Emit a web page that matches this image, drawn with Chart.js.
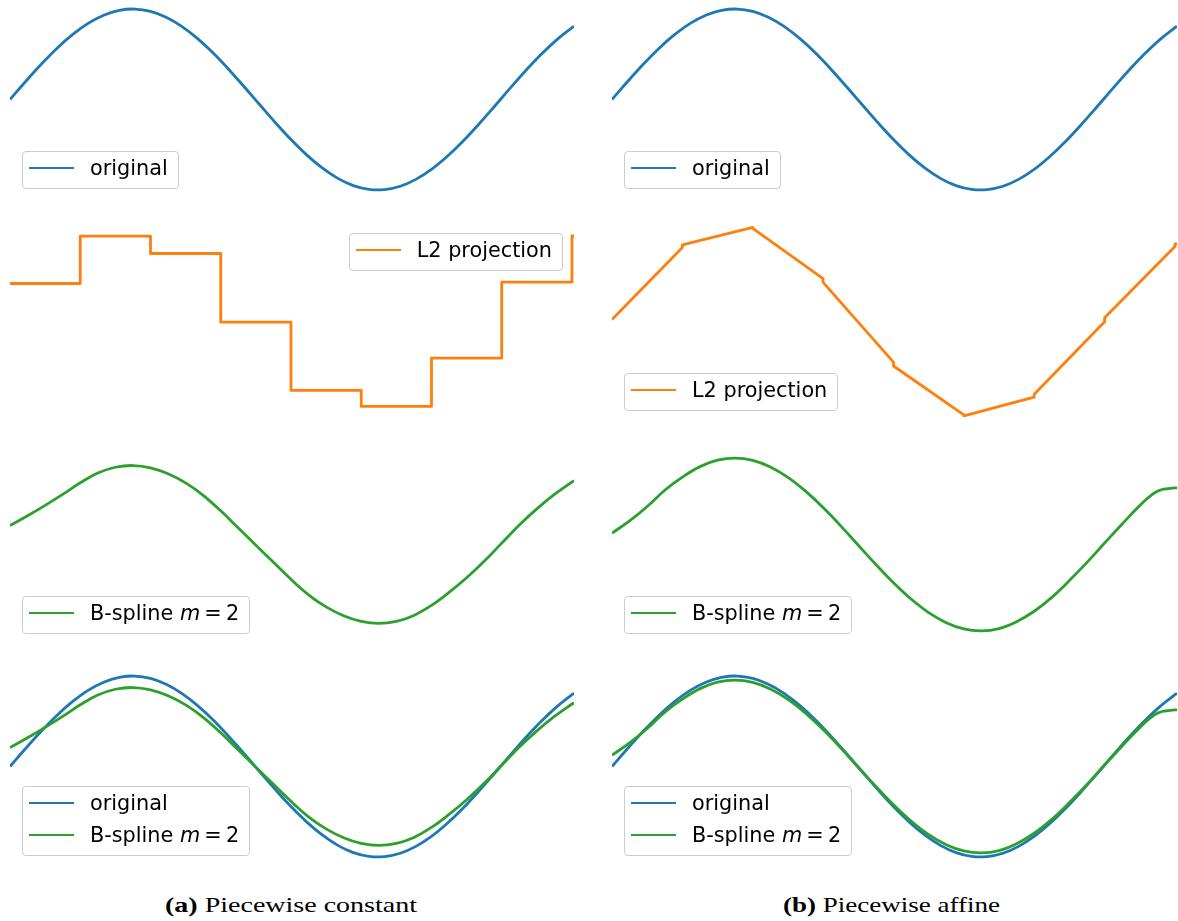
<!DOCTYPE html>
<html>
<head>
<meta charset="utf-8">
<script src="https://cdn.jsdelivr.net/npm/chart.js@4.4.0/dist/chart.umd.min.js"></script>
<style>
  html, body { margin: 0; padding: 0; background: #fff; }
  #figure { position: relative; width: 1178px; height: 921px; overflow: hidden; }
  .panel { position: absolute; height: 199px; }
  .panel canvas { position: absolute; left: 0; top: 0; }
  .legend {
    position: absolute; box-sizing: border-box; z-index: 2;
    border: 1px solid #cccccc; border-radius: 4px;
    background: rgba(255, 255, 255, 0.8);
    padding: 0 10px 4px 6px;
    font-family: "DejaVu Sans", sans-serif; font-size: 20.8px; color: #000;
  }
  .legend .row { display: flex; align-items: center; height: 32px; white-space: nowrap; }
  .legend .swatch { width: 45px; height: 2.8px; margin-right: 16px; }
  .caption {
    position: absolute; top: 893px; white-space: nowrap;
    font-family: "Liberation Serif", serif; font-size: 21px; color: #000;
    transform-origin: left center;
  }
</style>
</head>
<body>
<div id="figure"></div>
<script>
// --- data ---
// x positions (domain 0 .. 2.3*pi)
const xOriginal = [0, 0.2, 0.4, 0.6, 0.8, 1.0, 1.2, 1.4, 1.6, 1.8, 2.0, 2.2, 2.4, 2.6, 2.8, 3.0,
  3.2, 3.4, 3.6, 3.8, 4.0, 4.2, 4.4, 4.6, 4.8, 5.0, 5.2, 5.4, 5.6, 5.8, 6.0, 6.2, 6.4, 6.6,
  6.8, 7.0, 7.2, 7.226];
const original = [0, 0.199, 0.389, 0.565, 0.717, 0.841, 0.932, 0.985, 1.0, 0.974, 0.909, 0.808,
  0.675, 0.516, 0.335, 0.141, -0.058, -0.256, -0.443, -0.612, -0.757, -0.872, -0.952, -0.994,
  -0.996, -0.959, -0.883, -0.773, -0.631, -0.465, -0.279, -0.083, 0.117, 0.312, 0.494, 0.657,
  0.794, 0.809];

// cell edges of the projections
const cellEdges = [0, 0.9, 1.8, 2.7, 3.6, 4.5, 5.4, 6.3, 7.2, 7.226];
// piecewise constant L2 projection, one value per cell
const constValues = [0.42, 0.943, 0.752, -0.008, -0.762, -0.939, -0.406, 0.435, 0.947];
// piecewise affine L2 projection, value at left and right end of each cell
const affineStart = [0.023, 0.847, 1.029, 0.433, -0.492, -1.043, -0.805, 0.041, 0.857];
const affineEnd = [0.818, 1.040, 0.475, -0.449, -1.032, -0.837, -0.003, 0.829, 0.862];

// B-spline m = 2 curves
const xSpline = [0, 0.225, 0.45, 0.675, 0.9, 1.125, 1.35, 1.575, 1.8, 2.025, 2.25, 2.475, 2.7,
  2.925, 3.15, 3.375, 3.6, 3.825, 4.05, 4.275, 4.5, 4.725, 4.95, 5.175, 5.4, 5.625, 5.85, 6.075,
  6.3, 6.525, 6.75, 6.975, 7.2, 7.226];
const splineConst = [0.210, 0.318, 0.433, 0.554, 0.682, 0.790, 0.854, 0.873, 0.848, 0.782, 0.681,
  0.544, 0.372, 0.182, -0.007, -0.196, -0.385, -0.556, -0.690, -0.788, -0.851, -0.873, -0.850,
  -0.784, -0.673, -0.530, -0.368, -0.186, 0.015, 0.215, 0.394, 0.553, 0.691, 0.705];
const splineAffine = [0.125, 0.26, 0.42, 0.60, 0.745, 0.861, 0.932, 0.955, 0.930, 0.858, 0.743,
  0.590, 0.408, 0.206, -0.008, -0.221, -0.423, -0.603, -0.753, -0.864, -0.934, -0.955, -0.929,
  -0.853, -0.738, -0.585, -0.399, -0.198, 0.016, 0.227, 0.430, 0.59, 0.625, 0.626];

const BLUE = '#1f77b4', ORANGE = '#ff7f0e', GREEN = '#2ca02c';

// --- helpers ---
const zip = (xs, ys) => xs.map((x, i) => ({ x: x, y: ys[i] }));

function cellPoints(starts, ends) {
  const pts = [];
  for (let i = 0; i < starts.length; i++) {
    pts.push({ x: cellEdges[i], y: starts[i] });
    pts.push({ x: cellEdges[i + 1], y: ends[i] });
  }
  return pts;
}

const smooth = (label, xs, ys, color, order) => ({
  label, data: zip(xs, ys), borderColor: color, tension: 0.4, order
});
const sharp = (label, pts, color) => ({ label, data: pts, borderColor: color, tension: 0 });

const figure = document.getElementById('figure');
const columns = [{ left: 10, width: 564 }, { left: 612, width: 565 }];
const rowTops = [0, 222, 445, 667];

function legendLabel(text) {
  return text.replace('m = 2', '<i>m</i>&#8201;=&#8201;2');
}

function makePanel(col, row, datasets, loc) {
  const box = document.createElement('div');
  box.className = 'panel';
  box.style.left = columns[col].left + 'px';
  box.style.top = rowTops[row] + 'px';
  box.style.width = columns[col].width + 'px';
  figure.appendChild(box);

  const canvas = document.createElement('canvas');
  canvas.width = columns[col].width;
  canvas.height = 199;
  box.appendChild(canvas);

  new Chart(canvas.getContext('2d'), {
    type: 'line',
    data: { datasets },
    options: {
      responsive: false,
      animation: false,
      layout: { padding: 0 },
      plugins: { legend: { display: false }, tooltip: { enabled: false } },
      scales: {
        x: { type: 'linear', min: 0, max: 7.226, display: false },
        y: { min: -1.1, max: 1.1, display: false }
      },
      elements: {
        point: { radius: 0 },
        line: { borderWidth: 2.8, borderJoinStyle: 'round', borderCapStyle: 'butt' }
      }
    }
  });

  // legend, entries in dataset order
  const leg = document.createElement('div');
  leg.className = 'legend';
  const entries = datasets.slice().sort((a, b) => (b.order || 0) - (a.order || 0));
  entries.forEach(ds => {
    const r = document.createElement('div');
    r.className = 'row';
    r.innerHTML = `<span class="swatch" style="background:${ds.borderColor}"></span>` +
      `<span>${legendLabel(ds.label)}</span>`;
    leg.appendChild(r);
  });
  if (loc === 'upper right') {
    leg.style.right = '11px';
    leg.style.top = '11px';
  } else {
    leg.style.left = '12px';
    leg.style.bottom = '10px';
  }
  box.appendChild(leg);
}

// column (a): piecewise constant
makePanel(0, 0, [smooth('original', xOriginal, original, BLUE)], 'lower left');
makePanel(0, 1, [sharp('L2 projection', cellPoints(constValues, constValues), ORANGE)], 'upper right');
makePanel(0, 2, [smooth('B-spline m = 2', xSpline, splineConst, GREEN)], 'lower left');
makePanel(0, 3, [smooth('original', xOriginal, original, BLUE, 2),
                 smooth('B-spline m = 2', xSpline, splineConst, GREEN, 1)], 'lower left');

// column (b): piecewise affine
makePanel(1, 0, [smooth('original', xOriginal, original, BLUE)], 'lower left');
makePanel(1, 1, [sharp('L2 projection', cellPoints(affineStart, affineEnd), ORANGE)], 'lower left');
makePanel(1, 2, [smooth('B-spline m = 2', xSpline, splineAffine, GREEN)], 'lower left');
makePanel(1, 3, [smooth('original', xOriginal, original, BLUE, 2),
                 smooth('B-spline m = 2', xSpline, splineAffine, GREEN, 1)], 'lower left');

// captions under each column
const captions = [
  { html: '<b>(a)</b> Piecewise constant', center: 291, width: 252 },
  { html: '<b>(b)</b> Piecewise affine', center: 891, width: 217 }
];
captions.forEach(c => {
  const el = document.createElement('div');
  el.className = 'caption';
  el.innerHTML = c.html;
  figure.appendChild(el);
  const w = el.getBoundingClientRect().width;
  el.style.left = (c.center - c.width / 2) + 'px';
  el.style.transform = `scaleX(${c.width / w})`;
});
</script>
</body>
</html>
